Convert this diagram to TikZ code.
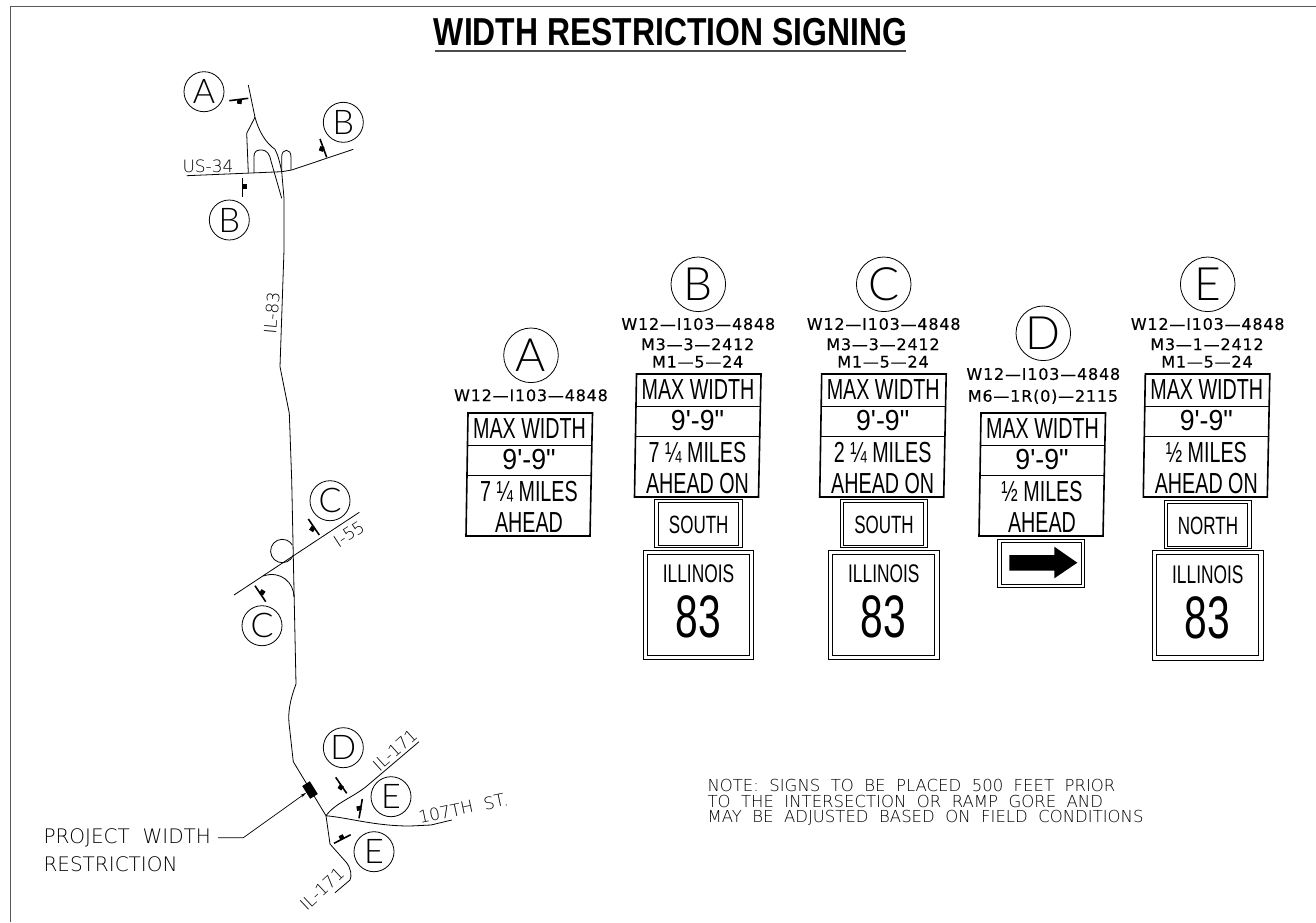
\documentclass[tikz,border=0pt]{standalone}
\usepackage{fontspec}
\setmainfont{DejaVu Sans}
\newfontfamily\signfont[FakeStretch=0.68]{Liberation Sans}
\newfontfamily\widefont[FakeStretch=0.92]{Liberation Sans}
\newfontfamily\titlefont[FakeStretch=0.818]{Liberation Sans Bold}
\newfontfamily\codefont[LetterSpace=5,FakeBold=0.3]{DejaVu Sans}
\newfontfamily\markfont{Lato Light}
\newfontfamily\mapfont[WordSpace=2]{DejaVu Sans ExtraLight}
\usetikzlibrary{arrows.meta}
\tikzset{
  road/.style={line width=0.8pt},
  tickline/.style={line width=1.6pt},
  tickblob/.style={fill=black,inner sep=0pt,minimum size=4.6pt},
  bigmark/.style={draw,circle,line width=0.8pt,minimum size=54.6pt,inner sep=0pt,font=\markfont\fontsize{46}{46}\selectfont},
  smallmark/.style={draw,circle,line width=0.8pt,minimum size=40pt,inner sep=0pt,font=\markfont\fontsize{34}{34}\selectfont},
  maplabel/.style={inner sep=0pt,font=\mapfont\fontsize{17}{17}\selectfont},
  leaderlabel/.style={inner sep=0pt,anchor=west,font=\mapfont\fontsize{20}{20}\selectfont},
  notelabel/.style={inner sep=0pt,anchor=west,font=\mapfont\fontsize{16.5}{16.5}\selectfont},
  code/.style={inner sep=0pt,font=\codefont\fontsize{16}{16}\selectfont},
  signtext/.style={inner sep=0pt,font=\signfont\fontsize{29}{29}\selectfont},
  valtext/.style={inner sep=0pt,font=\widefont\fontsize{29}{29}\selectfont},
  paneltext/.style={inner sep=0pt,font=\signfont\fontsize{25}{25}\selectfont},
  numtext/.style={inner sep=0pt,font=\signfont\fontsize{60}{60}\selectfont},
  signedge/.style={line width=1.6pt},
  signrule/.style={line width=0.9pt},
  panelline/.style={line width=0.8pt}
}
% panneau principal : nom, x, y, ligne 3, ligne 4
\newcommand{\maxsign}[5]{
  \begin{scope}[shift={(#2,#3)}]
    \draw[signedge] (0,0) -- (124.5,0) -- (122,123) -- (-2,123) -- cycle;
    \draw[signrule] (-0.7,32.5) -- (123.8,32.5);
    \draw[signrule] (-1.3,62) -- (123.3,62);
    \node[signtext] (#1max) at (61.5,15.5) {MAX WIDTH};
    \node[valtext] (#1val) at (61,46.5) {9'-9"};
    \node[signtext] (#1dist) at (61,79) {#4};
    \node[signtext] (#1on) at (61,110) {#5};
  \end{scope}
}
% panneau direction
\newcommand{\dirsign}[4]{
  \begin{scope}[shift={(#2,#3)}]
    \draw[panelline] (0,0) rectangle (87.3,48);
    \draw[panelline] (3.6,3.4) rectangle (83.6,46.4);
    \node[paneltext] (#1dir) at (44,25.5) {#4};
  \end{scope}
}
% panneau route
\newcommand{\routesign}[3]{
  \begin{scope}[shift={(#2,#3)}]
    \draw[panelline] (0,0) rectangle (110.7,109.3);
    \draw[panelline] (4.3,4) rectangle (106.3,105);
    \node[paneltext,font=\signfont\fontsize{25.5}{25.5}\selectfont] (#1state) at (55.5,24) {ILLINOIS};
    \node[numtext] (#1num) at (55,67) {83};
  \end{scope}
}
\begin{document}
\begin{tikzpicture}[x=1pt,y=-1pt]
  \useasboundingbox (0,0) rectangle (1316,922);
  %cadre
  \draw[line width=1.3pt,black!65] (10.7,922) -- (10.7,6.7) -- (1316,6.7);
  %titre
  \node[inner sep=0pt,font=\titlefont\fontsize{39}{39}\selectfont] (title) at (670.5,32.5) {WIDTH RESTRICTION SIGNING};
  \draw[line width=1.6pt,black!70] (435,50.7) -- (906,50.7);

  %route IL-83
  \draw[road] (248.3,85) -- (255,117.3) .. controls (259,132) and (266,143) .. (275,149.3) .. controls (278,155) and (280,163) .. (281.7,171.7) -- (284,198.3) -- (284,250) -- (280,366.7) -- (289.3,413.3) -- (291.7,480) -- (293.3,556.7) -- (296,684) .. controls (290,700) and (288,712) .. (289,723) -- (293.3,761.7) -- (326,815.7);
  %rampes
  \draw[road] (255,117.3) -- (246.7,133.3) -- (248.3,172.7);
  \draw[road] (254,172.7) -- (254,157) .. controls (254,150) and (258,150) .. (262,150) .. controls (267,150) and (270,155) .. (271,161) -- (281.7,198.3);
  \draw[road] (281.7,171.7) -- (281.7,157) .. controls (281.7,148) and (291,148) .. (291,157) -- (291,170);
  %route US-34
  \draw[road] (186.7,175.7) -- (281.7,171.7) -- (291.7,170) -- (353.3,149.3);
  %route I-55
  \draw[road] (234,595) -- (359.3,512.3);
  \draw[road] (293.3,555) arc[start angle=20,end angle=330,radius=11.7];
  \draw[road] (263.3,576) .. controls (281,570) and (294,583) .. (294,597);
  %routes du bas
  \draw[road] (326,815.7) .. controls (336,802) and (355,797) .. (370,783.3) -- (419,741.7);
  \draw[road] (326,815.7) .. controls (350,818) and (375,826) .. (410,826) -- (431,825) -- (451.7,820);
  \draw[road] (326,815.7) -- (330,844) -- (346,862) .. controls (351,868) and (352,876) .. (350,880) -- (335,892.7);

  %symboles
  \draw[tickline] (229.3,100.7) -- (248.3,98.3);
  \node[tickblob,rotate=-7] (tickA) at (239.5,101.6) {};
  \draw[tickline] (320,139) -- (326.7,157.3);
  \node[tickblob,rotate=-20] (tickBa) at (321.7,149) {};
  \draw[tickline] (242.3,178.3) -- (242.3,196.7);
  \node[tickblob] (tickBb) at (245,186.7) {};
  \draw[tickline] (308.3,519) -- (319.3,535);
  \node[tickblob,rotate=-33] (tickCa) at (312.3,529) {};
  \draw[tickline] (255,585.7) -- (265.7,601.7);
  \node[tickblob,rotate=-33] (tickCb) at (262.3,592.3) {};
  \draw[tickline] (335.7,777.3) -- (346.7,793.3);
  \node[tickblob,rotate=-33] (tickD) at (340.7,787.3) {};
  \draw[tickline] (362.3,799) -- (359,818.3);
  \node[tickblob,rotate=10] (tickEa) at (359,808.3) {};
  \draw[tickline] (334,843.3) -- (350.7,834.7);
  \node[tickblob,rotate=27] (tickEb) at (341.7,837.3) {};

  %lettres de la carte
  \node[smallmark] (mapA) at (204,91.7) {A};
  \node[smallmark] (mapBa) at (343.3,122.3) {B};
  \node[smallmark] (mapBb) at (229.3,220) {B};
  \node[smallmark] (mapCa) at (330,500.7) {C};
  \node[smallmark] (mapCb) at (262,625.7) {C};
  \node[smallmark] (mapD) at (343.3,747.7) {D};
  \node[smallmark] (mapEa) at (391,796.7) {E};
  \node[smallmark] (mapEb) at (374,851.7) {E};

  %noms des routes
  \node[maplabel] (us) at (208,166) {US-34};
  \node[maplabel,rotate=85] (il) at (271.7,313.3) {IL-83};
  \node[maplabel,rotate=33] (ifive) at (349,534) {I-55};
  \node[maplabel,rotate=42] (ilup) at (395,750) {IL-171};
  \node[maplabel,rotate=43] (ildown) at (322,889) {IL-171};
  \node[maplabel,rotate=12] (street) at (463.3,808.3) {107TH ST.};

  %restriction
  \node[fill=black,rotate=-58,minimum width=15pt,minimum height=9pt,inner sep=0pt] (block) at (310,790) {};
  \node[leaderlabel] (project) at (43.3,837.7) {PROJECT WIDTH};
  \node[leaderlabel] (restr) at (43.3,864) {RESTRICTION};
  \draw[line width=0.7pt,-{Stealth[length=6pt,width=3pt]},shorten <=7pt] (project.east) -- (243.3,837.7) -- (block);

  %note
  \node[notelabel] (notea) at (707.3,785) {NOTE: SIGNS TO BE PLACED 500 FEET PRIOR};
  \node[notelabel] (noteb) at (707.3,801.5) {TO THE INTERSECTION OR RAMP GORE AND};
  \node[notelabel] (notec) at (707.3,818.3) {MAY BE ADJUSTED BASED ON FIELD CONDITIONS};

  %signe A
  \node[bigmark] (signA) at (531,355.3) {A};
  \node[code] (codeAa) at (531,395.3) {W12—I103—4848};
  \maxsign{a}{468}{413}{7 ¼ MILES}{AHEAD}

  %signe B
  \node[bigmark] (signB) at (698.3,284.3) {B};
  \node[code] (codeBa) at (698.3,324) {W12—I103—4848};
  \node[code] (codeBb) at (697.7,344.3) {M3—3—2412};
  \node[code] (codeBc) at (697.7,361.7) {M1—5—24};
  \maxsign{b}{636.5}{374}{7 ¼ MILES}{AHEAD ON}
  \dirsign{b}{654.7}{499.3}{SOUTH}
  \routesign{b}{643}{550}

  %signe C
  \node[bigmark] (signC) at (883.7,284.3) {C};
  \node[code] (codeCa) at (883.7,324) {W12—I103—4848};
  \node[code] (codeCb) at (883,344.3) {M3—3—2412};
  \node[code] (codeCc) at (883,361.7) {M1—5—24};
  \maxsign{c}{821.7}{374}{2 ¼ MILES}{AHEAD ON}
  \dirsign{c}{840}{499.3}{SOUTH}
  \routesign{c}{828.3}{550}

  %signe D
  \node[bigmark] (signD) at (1043.3,333.3) {D};
  \node[code] (codeDa) at (1043.3,374) {W12—I103—4848};
  \node[code] (codeDb) at (1043,396.7) {M6—1R(0)—2115};
  \maxsign{d}{981}{413}{½ MILES}{AHEAD}
  %fleche
  \draw[panelline] (997.7,539) rectangle (1084.7,587.3);
  \draw[panelline] (1001.7,542.7) rectangle (1081,584);
  \fill (1009.3,555) -- (1054.3,555) -- (1054.3,546.7) -- (1077.3,562.7) -- (1054.3,578.3) -- (1054.3,570.7) -- (1009.3,570.7) -- cycle;

  %signe E
  \node[bigmark] (signE) at (1207.7,284.3) {E};
  \node[code] (codeEa) at (1207.7,324) {W12—I103—4848};
  \node[code] (codeEb) at (1207,344.3) {M3—1—2412};
  \node[code] (codeEc) at (1207,361.7) {M1—5—24};
  \maxsign{e}{1145.3}{374}{½ MILES}{AHEAD ON}
  \dirsign{e}{1164}{500}{NORTH}
  \routesign{e}{1152.3}{550.7}
\end{tikzpicture}
\end{document}
